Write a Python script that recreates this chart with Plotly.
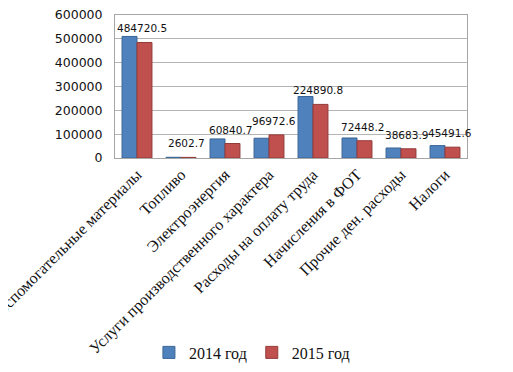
import plotly.graph_objects as go

categories = ["Вспомогательные материалы", "Топливо", "Электроэнергия",
              "Услуги производственного характера", "Расходы на оплату труда",
              "Начисления в ФОТ", "Прочие ден. расходы", "Налоги"]
values_2014 = [510000, 3000, 80000, 83000, 258000, 84000, 42000, 52000]
values_2015 = [484720.5, 2602.7, 60840.7, 96972.6, 224890.8, 72448.2, 38683.9, 45491.6]
label_2015 = ["484720.5", "2602.7", "60840.7", "96972.6", "224890.8", "72448.2", "38683.9", "45491.6"]
y_ticks = [0, 100000, 200000, 300000, 400000, 500000, 600000]

fig = go.Figure()
fig.add_trace(go.Bar(x=categories, y=values_2014, name="2014 год",
                     marker=dict(color="#4F81BD", line=dict(color="#3A6596", width=1))))
fig.add_trace(go.Bar(x=categories, y=values_2015, name="2015 год",
                     marker=dict(color="#C0504D", line=dict(color="#943B39", width=1))))

for c, v, t in zip(categories, values_2015, label_2015):
    fig.add_annotation(x=c, y=v, text=t, showarrow=False, xshift=5, yshift=14,
                       font=dict(family="DejaVu Sans", size=10.5, color="#111"))

fig.update_layout(
    width=513, height=372,
    margin=dict(l=107, r=54, t=7, b=222, autoexpand=False),
    paper_bgcolor="white", plot_bgcolor="white",
    barmode="group", bargap=0.32, bargroupgap=0,
    showlegend=True,
    legend=dict(orientation="h", x=0.389, xanchor="center", y=-1.36, yanchor="middle",
                font=dict(family="Liberation Serif", size=16, color="#111"),
                itemwidth=30),
    xaxis=dict(tickangle=-45, tickfont=dict(family="Liberation Serif", size=16, color="#111"),
               showline=True, linecolor="#a6a6a6", mirror=True, ticks="", range=[-0.5, 7.5],
               automargin=False, ticklabeloverflow="allow"),
    yaxis=dict(range=[0, 600000], tickvals=y_ticks, ticktext=[str(v) for v in y_ticks],
               tickfont=dict(family="DejaVu Sans", size=12.5, color="#111"),
               showgrid=True, gridcolor="#b4b4b4", gridwidth=1,
               showline=True, linecolor="#a6a6a6", mirror=True, ticklabelstandoff=9,
               zeroline=False, automargin=False, ticklabeloverflow="allow"),
)

fig.write_html("out.html")
